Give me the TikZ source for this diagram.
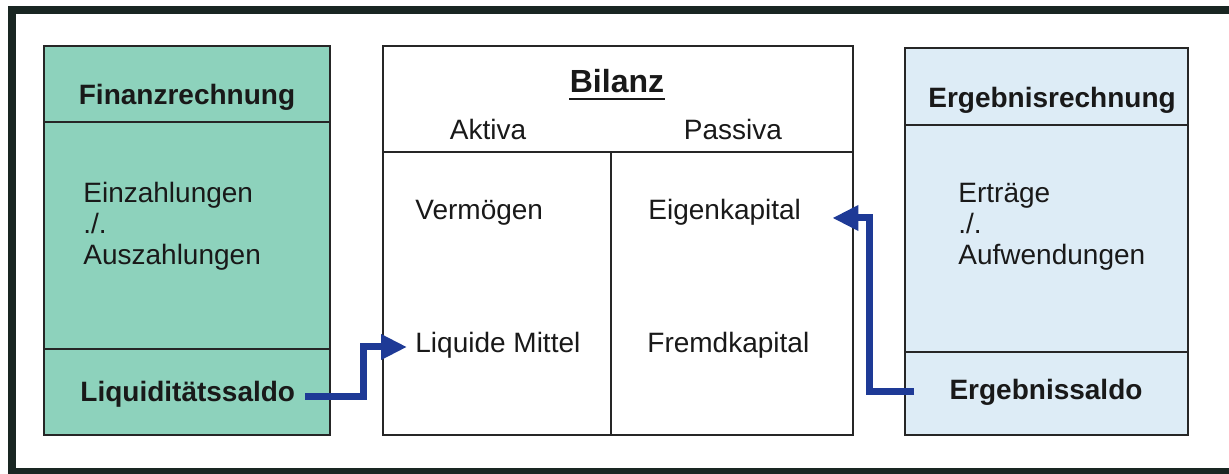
\documentclass[tikz,border=0pt]{standalone}
\usepackage{fontspec}
\setmainfont{Liberation Sans}
\usetikzlibrary{arrows.meta,calc}
\definecolor{finanzgruen}{RGB}{141,210,188}
\definecolor{ergebnisblau}{RGB}{221,236,246}
\definecolor{pfeilblau}{RGB}{30,58,150}
\definecolor{rahmen}{RGB}{25,38,34}
\tikzset{
        konto/.style={draw=black!85, line width=1pt},
        txt/.style={inner sep=0pt, text=black!90, font=\fontsize{14}{15.4}\selectfont},
        kopf/.style={txt, font=\bfseries\fontsize{14}{15.4}\selectfont},
        saldo/.style={draw=pfeilblau, line width=3.5pt, -{Triangle[length=13pt,width=12pt]}}
}
\begin{document}
\begin{tikzpicture}[x=0.5pt, y=-0.5pt]
        \useasboundingbox (0,0) rectangle (1229,474);
        \clip (0,0) rectangle (1229,474);
        \fill[white] (0,0) rectangle (1229,474);
        \draw[draw=rahmen, line width=4pt] (11.5,10) rectangle (1234,472);

        \draw[konto, fill=finanzgruen] (44,46) rectangle (330,435);
        \draw[konto] (44,122) -- (330,122) (44,349) -- (330,349);
        \draw[konto] (383,46) rectangle (853,435);
        \draw[konto] (383,152) -- (853,152) (611,152) -- (611,435);
        \draw[konto, fill=ergebnisblau] (905,48) rectangle (1188,435);
        \draw[konto] (905,125) -- (1188,125) (905,352) -- (1188,352);

        \node[kopf, anchor=base] (fin) at (187,105) {Finanzrechnung};
        \node[txt, anchor=north west, align=left] (fintext) at (83,182) {Einzahlungen\\./.\\Auszahlungen};
        \node[kopf, anchor=base west] (liq) at (80,402) {Liquiditätssaldo};

        \node[kopf, anchor=base, font=\bfseries\fontsize{16}{18}\selectfont] (bil) at (617,93) {Bilanz};
        \draw[line width=1.4pt, black!90] ($(bil.base west)+(0,6)$) -- ($(bil.base east)+(0,6)$);
        \node[txt, anchor=base] (akt) at (488,140) {Aktiva};
        \node[txt, anchor=base] (pas) at (733,140) {Passiva};
        \node[txt, anchor=base west] (verm) at (415,220) {Vermögen};
        \node[txt, anchor=base west] (ek) at (648,220) {Eigenkapital};
        \node[txt, anchor=base west] (mittel) at (415,353) {Liquide Mittel};
        \node[txt, anchor=base west] (fk) at (647,353) {Fremdkapital};

        \node[kopf, anchor=base] (ergr) at (1052,108) {Ergebnisrechnung};
        \node[txt, anchor=north west, align=left] (ergtext) at (958,183) {Erträge\\./.\\Aufwendungen};
        \node[kopf, anchor=base] (erg) at (1046,400) {Ergebnissaldo};

        \draw[saldo] ($(liq.base east)+(10,-5)$) -- ++(58,0) |- ($(mittel.base west)+(-8,-6)$);
        \draw[saldo] ($(erg.base west)+(-35,-8)$) -- ++(-45,0) |- ($(ek.base east)+(31,-2)$);
\end{tikzpicture}
\end{document}
